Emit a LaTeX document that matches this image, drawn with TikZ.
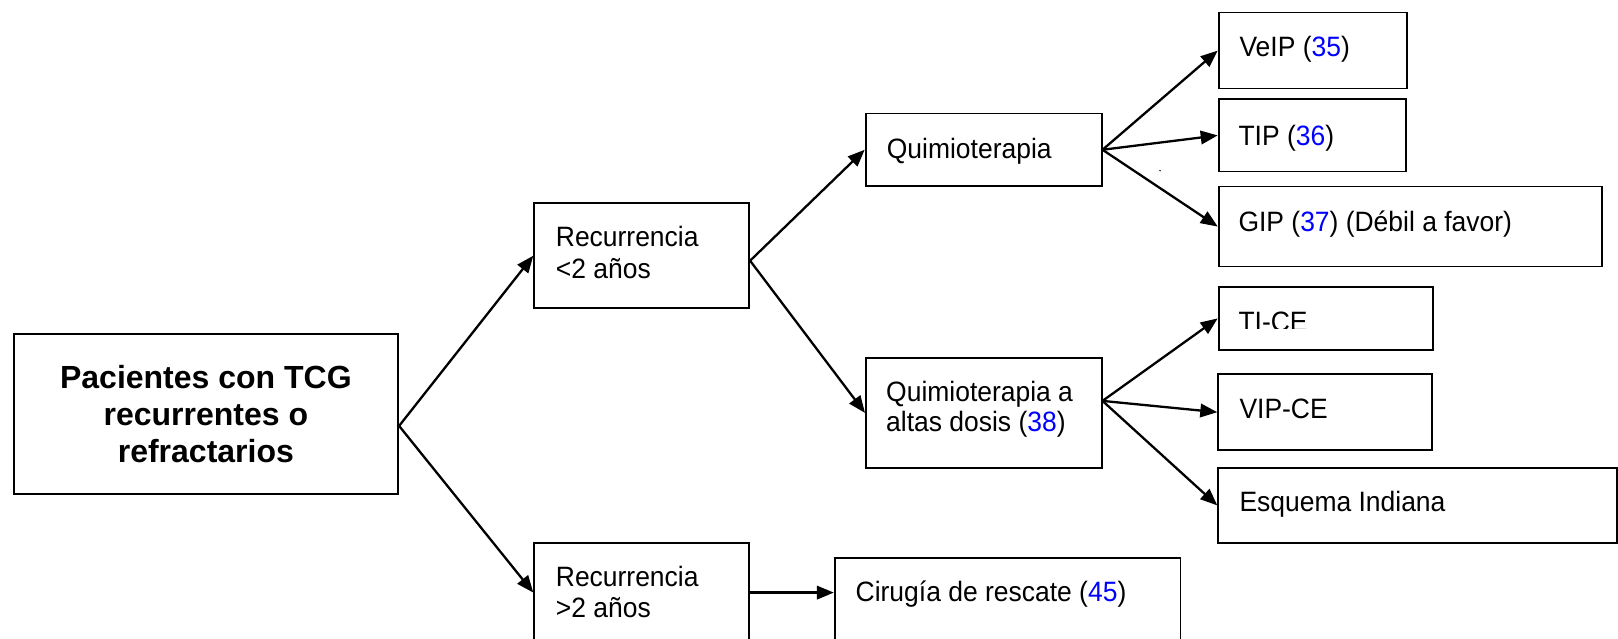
\documentclass[tikz,border=0pt]{standalone}
\usepackage{fontspec}
\setmainfont{Liberation Sans}
\newfontfamily\boxfont[FakeStretch=0.945]{Liberation Sans}
\usetikzlibrary{arrows.meta}
\definecolor{refblue}{RGB}{0,0,255}
\newcommand{\cit}[1]{\textcolor{refblue}{#1}}
\begin{document}
\begin{tikzpicture}[x=1pt,y=-1pt,
  box/.style={draw=black,line width=1.8pt,fill=white,rectangle,inner sep=0pt,anchor=north west},
  txt/.style={inner sep=0pt,anchor=base west,font=\boxfont\fontsize{28}{31.5}\selectfont},
  head/.style={inner sep=0pt,font=\fontsize{32}{37}\selectfont\bfseries,align=center},
  link/.style={line width=2.3pt,-{Triangle[length=17pt,width=13.5pt]}}]
\useasboundingbox (0,0) rectangle (1618,639);
\clip (0,0) rectangle (1618,639);

% boxes
\node[box,minimum width=384.6pt,minimum height=160pt] (main) at (12.7,333.3) {};
\node[box,minimum width=215pt,minimum height=105pt] (r1) at (533.3,202.3) {};
\node[box,minimum width=215pt,minimum height=100pt] (r2) at (533.3,541.7) {};
\node[box,minimum width=236pt,minimum height=72.3pt] (quim) at (864.7,112.7) {};
\node[box,minimum width=235.7pt,minimum height=110.6pt] (qad) at (865,356.7) {};
\node[box,minimum width=345.7pt,minimum height=110pt] (cir) at (833.8,556.7) {};
\node[box,minimum width=188pt,minimum height=76pt] (veip) at (1217.7,11.7) {};
\node[box,minimum width=187.3pt,minimum height=72.4pt] (tip) at (1217.7,98.3) {};
\node[box,minimum width=383pt,minimum height=80pt] (gip) at (1217.7,185.7) {};
\node[box,minimum width=214pt,minimum height=63pt] (tice) at (1217.7,286) {};
\node[box,minimum width=213.7pt,minimum height=76pt] (vipce) at (1217.3,373.3) {};
\node[box,minimum width=399pt,minimum height=74.4pt] (ind) at (1217.3,467.3) {};

% texts
\node[head] (mainT) at (main.center) {Pacientes con TCG\\recurrentes o\\refractarios};
\node[txt] (r1Ta) at (555.7,246.7) {Recurrencia};
\node[txt] (r1Tb) at (555.7,278.3) {<2 años};
\node[txt] (r2Ta) at (555.7,586.7) {Recurrencia};
\node[txt] (r2Tb) at (555.7,617.7) {>2 años};
\node[txt] (quimT) at (886.7,158.3) {Quimioterapia};
\node[txt] (qadTa) at (886,401.7) {Quimioterapia a};
\node[txt] (qadTb) at (886,431.7) {altas dosis (\cit{38})};
\node[txt] (cirT) at (855.5,601.7) {Cirugía de rescate (\cit{45})};
\node[txt] (veipT) at (1239.3,56.7) {VeIP (\cit{35})};
\node[txt] (tipT) at (1238.3,145.3) {TIP (\cit{36})};
\node[txt] (gipT) at (1238.3,231.7) {GIP (\cit{37}) (Débil a favor)};
\begin{scope}
  \clip (1225,290) rectangle (1420,328);
  \node[txt] (ticeT) at (1238.3,331.7) {TI-CE};
\end{scope}
\node[txt] (vipceT) at (1239.3,418.3) {VIP-CE};
\node[txt] (indT) at (1239.3,511.7) {Esquema Indiana};

% connectors
\coordinate (mainOut) at ([yshift=-11.7pt]main.east);
\coordinate (r1Out) at ([yshift=-5pt]r1.east);
\coordinate (qadOut) at ([yshift=12pt]qad.east);
\draw[link] (mainOut) -- (r1.west);
\draw[link] (mainOut) -- (r2.west);
\draw[link] (r1Out) -- (quim.west);
\draw[link] (r1Out) -- (qad.west);
\draw[link] (quim.east) -- (veip.west);
\draw[link] (quim.east) -- (tip.west);
\draw[link] (quim.east) -- (gip.west);
\draw[link] (qadOut) -- (tice.west);
\draw[link] (qadOut) -- (vipce.west);
\draw[link] (qadOut) -- (ind.west);
\draw[link] (r2.east) -- (r2.east -| cir.west);

% stray speck
\fill (1160,170.7) circle (0.8);
\end{tikzpicture}
\end{document}
